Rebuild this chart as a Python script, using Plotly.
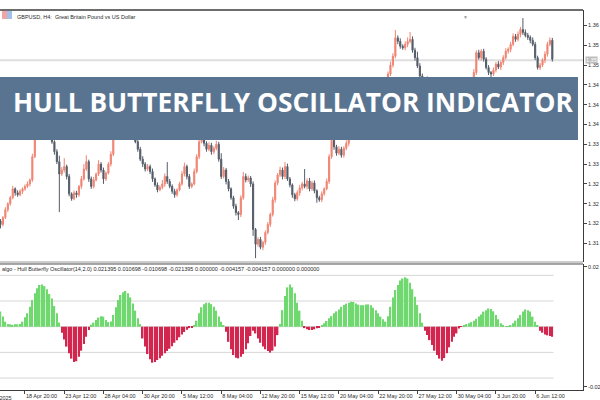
import plotly.graph_objects as go

# ---------------- data ----------------
first_open = 1.3215
closes = [
    1.3208, 1.3222, 1.3238, 1.3250, 1.3262, 1.3280, 1.3272, 1.3268, 1.3275, 1.3280,
    1.3285, 1.3290, 1.3298, 1.3345, 1.3385, 1.3395, 1.3405, 1.3400, 1.3412, 1.3405,
    1.3398, 1.3375, 1.3355, 1.3335, 1.3310, 1.3318, 1.3325, 1.3305, 1.3270, 1.3260,
    1.3272, 1.3268, 1.3285, 1.3300, 1.3320, 1.3335, 1.3300, 1.3285, 1.3298, 1.3310,
    1.3330, 1.3318, 1.3300, 1.3312, 1.3330, 1.3350, 1.3385, 1.3400, 1.3415, 1.3420,
    1.3410, 1.3425, 1.3418, 1.3405, 1.3395, 1.3375, 1.3360, 1.3340, 1.3330, 1.3320,
    1.3325, 1.3315, 1.3300, 1.3288, 1.3278, 1.3283, 1.3290, 1.3305, 1.3295, 1.3285,
    1.3275, 1.3268, 1.3278, 1.3290, 1.3310, 1.3325, 1.3305, 1.3285, 1.3290, 1.3315,
    1.3345, 1.3375, 1.3385, 1.3372, 1.3360, 1.3368, 1.3355, 1.3362, 1.3370, 1.3340,
    1.3305, 1.3318, 1.3295, 1.3280, 1.3262, 1.3245, 1.3232, 1.3228, 1.3262, 1.3305,
    1.3298, 1.3302, 1.3290, 1.3198, 1.3168, 1.3178, 1.3162, 1.3172, 1.3192, 1.3208,
    1.3228, 1.3258, 1.3292, 1.3308, 1.3318, 1.3305, 1.3325, 1.3300, 1.3288, 1.3268,
    1.3260, 1.3272, 1.3282, 1.3290, 1.3285, 1.3296, 1.3280, 1.3292, 1.3276, 1.3262,
    1.3258, 1.3270, 1.3280, 1.3295, 1.3345, 1.3378, 1.3365, 1.3352, 1.3360, 1.3348,
    1.3362, 1.3372, 1.3388, 1.3398, 1.3405, 1.3400, 1.3412, 1.3420, 1.3415, 1.3428,
    1.3422, 1.3435, 1.3440, 1.3432, 1.3445, 1.3460, 1.3478, 1.3495, 1.3512, 1.3530,
    1.3548, 1.3585, 1.3578, 1.3568, 1.3565, 1.3572, 1.3578, 1.3582, 1.3560, 1.3545,
    1.3528, 1.3508, 1.3498, 1.3502, 1.3495, 1.3500, 1.3490, 1.3475, 1.3462, 1.3455,
    1.3468, 1.3480, 1.3492, 1.3498, 1.3495, 1.3500, 1.3492, 1.3478, 1.3470, 1.3462,
    1.3475, 1.3480, 1.3490, 1.3515, 1.3555, 1.3545, 1.3558, 1.3542, 1.3525, 1.3515,
    1.3512, 1.3520, 1.3532, 1.3526, 1.3535, 1.3545, 1.3558, 1.3562, 1.3572, 1.3588,
    1.3582, 1.3592, 1.3602, 1.3596, 1.3590, 1.3586, 1.3580, 1.3572, 1.3545, 1.3525,
    1.3530, 1.3540, 1.3552, 1.3572, 1.3580, 1.3542,
]
# upper / lower wick lengths in pips (0.0001)
wick_up = [
    4, 3, 5, 3, 4, 6, 3, 5, 4, 3,
    4, 5, 3, 6, 8, 5, 7, 4, 6, 5,
    4, 6, 3, 5, 12, 6, 17, 4, 5, 3,
    5, 4, 3, 6, 10, 13, 4, 5, 6, 3,
    8, 4, 5, 3, 4, 6, 5, 7, 4, 6,
    5, 6, 4, 5, 3, 6, 4, 5, 6, 4,
    5, 4, 6, 3, 5, 4, 8, 6, 29, 5,
    4, 5, 3, 4, 6, 8, 4, 5, 3, 6,
    5, 8, 6, 5, 4, 6, 5, 4, 7, 5,
    12, 6, 4, 5, 3, 4, 5, 3, 5, 9,
    6, 5, 4, 5, 3, 4, 5, 3, 4, 5,
    4, 6, 5, 4, 7, 5, 9, 6, 4, 3,
    4, 5, 6, 4, 30, 5, 6, 4, 5, 3,
    4, 5, 3, 6, 5, 7, 5, 4, 6, 5,
    4, 6, 5, 4, 5, 6, 4, 5, 6, 5,
    4, 6, 5, 4, 6, 5, 4, 6, 5, 7,
    6, 16, 5, 6, 4, 6, 8, 15, 6, 5,
    12, 6, 5, 4, 5, 6, 4, 5, 4, 6,
    5, 4, 6, 5, 4, 6, 5, 4, 5, 6,
    4, 5, 6, 7, 5, 6, 4, 5, 4, 5,
    3, 5, 4, 6, 4, 5, 6, 4, 5, 6,
    5, 6, 5, 23, 6, 5, 4, 6, 5, 4,
    5, 4, 6, 5, 6, 5,
]
wick_dn = [
    8, 4, 3, 5, 4, 3, 6, 4, 3, 5,
    4, 3, 5, 4, 3, 6, 5, 4, 5, 6,
    5, 4, 6, 5, 77, 4, 5, 6, 5, 4,
    3, 6, 4, 5, 3, 4, 6, 5, 4, 3,
    4, 5, 10, 4, 3, 5, 4, 6, 5, 4,
    5, 4, 6, 5, 4, 3, 5, 4, 6, 5,
    4, 5, 6, 4, 5, 3, 4, 6, 5, 4,
    5, 6, 4, 3, 4, 5, 6, 5, 4, 3,
    4, 5, 3, 6, 5, 4, 6, 5, 4, 5,
    5, 4, 6, 5, 4, 5, 6, 11, 5, 4,
    5, 4, 6, 13, 28, 5, 4, 6, 5, 4,
    5, 4, 6, 5, 4, 6, 5, 4, 5, 6,
    5, 4, 6, 5, 4, 6, 5, 4, 5, 10,
    4, 5, 4, 3, 5, 4, 6, 5, 4, 5,
    5, 4, 6, 5, 4, 5, 6, 4, 5, 6,
    4, 5, 6, 5, 4, 6, 5, 4, 5, 4,
    5, 4, 6, 5, 4, 5, 6, 4, 5, 6,
    4, 5, 6, 5, 4, 6, 5, 4, 5, 4,
    5, 4, 6, 5, 4, 5, 6, 4, 5, 6,
    4, 5, 4, 6, 5, 4, 6, 5, 4, 5,
    6, 4, 5, 4, 6, 5, 4, 5, 6, 4,
    5, 4, 6, 5, 4, 5, 6, 4, 5, 4,
    5, 4, 6, 5, 4, 5,
]
osc = [
    0.0063, 0.0042, 0.0021, 0.0011, 0.0010, 0.0008, 0.0010, 0.0010, 0.0011, 0.0021,
    0.0039, 0.0056, 0.0083, 0.0111, 0.0139, 0.0160, 0.0174, 0.0176, 0.0169, 0.0156,
    0.0136, 0.0118, 0.0086, 0.0056, 0.0017, -0.0025, -0.0053, -0.0083, -0.0111, -0.0133,
    -0.0147, -0.0144, -0.0125, -0.0100, -0.0072, -0.0042, -0.0014, 0.0008, 0.0017, 0.0028,
    0.0038, 0.0044, 0.0042, 0.0028, 0.0019, 0.0022, 0.0049, 0.0081, 0.0111, 0.0132,
    0.0144, 0.0149, 0.0139, 0.0122, 0.0097, 0.0067, 0.0035, 0.0011, -0.0049, -0.0083,
    -0.0114, -0.0136, -0.0150, -0.0147, -0.0139, -0.0131, -0.0121, -0.0111, -0.0101, -0.0092,
    -0.0081, -0.0067, -0.0056, -0.0044, -0.0033, -0.0022, -0.0013, -0.0006, -0.0003, 0.0004,
    0.0025, 0.0056, 0.0081, 0.0094, 0.0100, 0.0100, 0.0094, 0.0083, 0.0067, 0.0042,
    0.0021, 0.0007, -0.0021, -0.0063, -0.0094, -0.0118, -0.0129, -0.0132, -0.0125, -0.0114,
    -0.0094, -0.0069, -0.0039, -0.0017, -0.0028, -0.0049, -0.0067, -0.0083, -0.0094, -0.0101,
    -0.0108, -0.0100, -0.0083, -0.0035, 0.0011, 0.0069, 0.0128, 0.0164, 0.0176, 0.0164,
    0.0139, 0.0100, 0.0067, 0.0025, -0.0006, -0.0011, -0.0014, -0.0014, -0.0011, -0.0007,
    -0.0003, 0.0004, 0.0014, 0.0024, 0.0035, 0.0044, 0.0056, 0.0064, 0.0072, 0.0083,
    0.0090, 0.0096, 0.0100, 0.0104, 0.0103, 0.0097, 0.0092, 0.0089, 0.0090, 0.0092,
    0.0093, 0.0089, 0.0079, 0.0069, 0.0056, 0.0042, 0.0031, 0.0021, 0.0044, 0.0083,
    0.0122, 0.0153, 0.0174, 0.0192, 0.0201, 0.0206, 0.0201, 0.0183, 0.0156, 0.0125,
    0.0090, 0.0056, 0.0017, -0.0017, -0.0035, -0.0056, -0.0076, -0.0100, -0.0118, -0.0133,
    -0.0142, -0.0131, -0.0111, -0.0086, -0.0063, -0.0042, -0.0028, -0.0008, -0.0001, 0.0004,
    0.0011, 0.0014, 0.0019, 0.0025, 0.0033, 0.0042, 0.0051, 0.0063, 0.0069, 0.0076,
    0.0074, 0.0064, 0.0049, 0.0031, 0.0014, 0.0006, 0.0001, 0.0001, 0.0007, 0.0014,
    0.0025, 0.0035, 0.0049, 0.0063, 0.0072, 0.0069, 0.0063, 0.0042, 0.0021, 0.0007,
    -0.0017, -0.0025, -0.0033, -0.0036, -0.0039, -0.0042,
]
osc_levels = [0.021395, 0.010698, 0.0, -0.010698, -0.021395]
bid_price = 1.3540

date_ticks = [10, 26, 42, 58, 74, 90, 106, 122, 138, 154, 170, 186, 202, 218]
date_labels = ["18 Apr 20:00", "23 Apr 12:00", "28 Apr 04:00", "30 Apr 20:00",
               "5 May 12:00", "8 May 04:00", "12 May 20:00", "15 May 12:00",
               "20 May 04:00", "22 May 20:00", "27 May 12:00", "30 May 04:00",
               "3 Jun 20:00", "6 Jun 12:00"]
price_ticks = [1.3610, 1.3570, 1.3530, 1.3490, 1.3450, 1.3410,
               1.3370, 1.3330, 1.3290, 1.3250, 1.3210, 1.3170]
price_labels = ["1.36", "1.35", "1.35", "1.34", "1.34", "1.34",
                "1.33", "1.33", "1.32", "1.32", "1.32", "1.31"]
osc_ticks = [0.0249, -0.0251]
osc_labels = ["0.02", "-0.02"]

# ---------------- derived OHLC ----------------
n = len(closes)
bar_idx = list(range(n))
opens = [first_open] + closes[:-1]
highs = [max(o, c) + u / 10000 for o, c, u in zip(opens, closes, wick_up)]
lows = [min(o, c) - d / 10000 for o, c, d in zip(opens, closes, wick_dn)]

UP = "#f08472"
DN = "#545c68"
GREEN = "#6fd86f"
RED = "#d3264f"
FONT = "Liberation Sans"
TXT = "#2a2a2a"

fig = go.Figure()
fig.add_trace(go.Candlestick(
    x=bar_idx, open=opens, high=highs, low=lows, close=closes,
    xaxis="x", yaxis="y2", whiskerwidth=0,
    increasing=dict(line=dict(color=UP, width=1), fillcolor=UP),
    decreasing=dict(line=dict(color=DN, width=1), fillcolor=DN),
    hoverinfo="skip", showlegend=False,
))
fig.add_trace(go.Bar(
    x=bar_idx, y=osc, width=0.6, xaxis="x", yaxis="y",
    marker=dict(color=[GREEN if v >= 0 else RED for v in osc], line=dict(width=0)),
    hoverinfo="skip", showlegend=False,
))

shapes = []
for lv in osc_levels:
    shapes.append(dict(type="line", xref="x", yref="y", x0=bar_idx[0] - 0.2, x1=bar_idx[-1] + 0.5,
                       y0=lv, y1=lv, line=dict(color="#d6d6d6", width=1), layer="below"))
shapes.append(dict(type="line", xref="paper", yref="y2", x0=0, x1=1, y0=bid_price, y1=bid_price,
                   line=dict(color="#dedede", width=2), layer="below"))
# panel frames
shapes.append(dict(type="line", xref="paper", yref="paper", x0=0, x1=1, y0=1, y1=1,
                   line=dict(color="#3c3c3c", width=1.5)))
shapes.append(dict(type="line", xref="paper", yref="paper", x0=0, x1=1, y0=0.3368, y1=0.3368,
                   line=dict(color="#9a9a9a", width=1)))
shapes.append(dict(type="line", xref="paper", yref="paper", x0=0, x1=1, y0=0.3316, y1=0.3316,
                   line=dict(color="#4a4a4a", width=1)))
# banner
shapes.append(dict(type="rect", xref="paper", yref="paper", x0=0, x1=0.9914, y0=0.6579, y1=0.8237,
                   fillcolor="#597491", line=dict(width=0), layer="above"))
# symbol icon
shapes.append(dict(type="rect", xref="paper", yref="paper", x0=0.0034, x1=0.0120, y0=0.9763, y1=0.9974,
                   fillcolor="#f2a3a3", line=dict(width=0)))
shapes.append(dict(type="rect", xref="paper", yref="paper", x0=0.0120, x1=0.0206, y0=0.9763, y1=0.9974,
                   fillcolor="#9fc2ea", line=dict(width=0)))

annotations = [
    dict(text="HULL BUTTERFLLY OSCILLATOR INDICATOR", xref="paper", yref="paper",
         x=0.503, y=0.7566, xanchor="center", yanchor="middle", showarrow=False,
         font=dict(family="Open Sans", size=26.3, color="white", weight="bold")),
    dict(text="GBPUSD, H4:  Great Britain Pound vs US Dollar", xref="paper", yref="paper",
         x=0.0257, y=0.9816, xanchor="left", yanchor="middle", showarrow=False,
         font=dict(family=FONT, size=5.5, color=TXT)),
    dict(text="algo - Hull Butterfly Oscillator(14,2.0) 0.021395 0.010698 -0.010698 -0.021395 "
              "0.000000 -0.004157 -0.004157 0.000000 0.000000",
         xref="paper", yref="paper", x=0.0, y=0.3197, xanchor="left", yanchor="middle",
         showarrow=False, font=dict(family=FONT, size=5.5, color=TXT)),
    dict(text="17 Apr 2025", xref="paper", yref="paper", x=-0.035, y=-0.008,
         xanchor="left", yanchor="top", showarrow=False, font=dict(family=FONT, size=5.5, color=TXT)),
    dict(text="1.35", xref="paper", yref="y2", x=1.004, y=bid_price, xanchor="left", yanchor="middle",
         showarrow=False, bgcolor="#bdbdbd", borderpad=0, font=dict(family=FONT, size=5.5, color="white")),
    dict(text="▼", xref="paper", yref="paper", x=0.7976, y=0.996, xanchor="center", yanchor="top",
         showarrow=False, font=dict(family=FONT, size=5, color="#9a9a9a")),
]

fig.update_layout(
    width=600, height=400, margin=dict(l=0, r=17, t=10, b=10, autoexpand=False),
    paper_bgcolor="white", plot_bgcolor="white", showlegend=False,
    hovermode=False, boxgap=0.35,
    xaxis=dict(range=[-0.19, 237.5], anchor="y", showgrid=False, zeroline=False,
               tickmode="array", tickvals=date_ticks, ticktext=date_labels, tickangle=0,
               ticks="outside", ticklen=3, tickcolor="#444", ticklabelposition="outside right",
               tickfont=dict(family=FONT, size=5.5, color=TXT), automargin=False,
               showline=True, linecolor="#3c3c3c", linewidth=1,
               rangeslider=dict(visible=False)),
    yaxis=dict(domain=[0, 0.3316], range=[-0.02638, 0.02613], anchor="x", side="right",
               showgrid=False, zeroline=False, tickmode="array", tickvals=osc_ticks, ticktext=osc_labels,
               ticks="outside", ticklen=3, tickcolor="#444", automargin=False,
               tickfont=dict(family=FONT, size=5.5, color=TXT),
               showline=True, linecolor="#3c3c3c", linewidth=1),
    yaxis2=dict(domain=[0.3368, 1], range=[1.31322, 1.36413], anchor="x", side="right",
                showgrid=False, zeroline=False, tickmode="array", tickvals=price_ticks, ticktext=price_labels,
                ticks="outside", ticklen=3, tickcolor="#444", automargin=False,
                tickfont=dict(family=FONT, size=5.5, color=TXT),
                showline=True, linecolor="#3c3c3c", linewidth=1),
    shapes=shapes, annotations=annotations,
)

fig.write_html("out.html", config={"displayModeBar": False},
               post_script="document.body.style.margin='0';document.body.style.padding='0';")
